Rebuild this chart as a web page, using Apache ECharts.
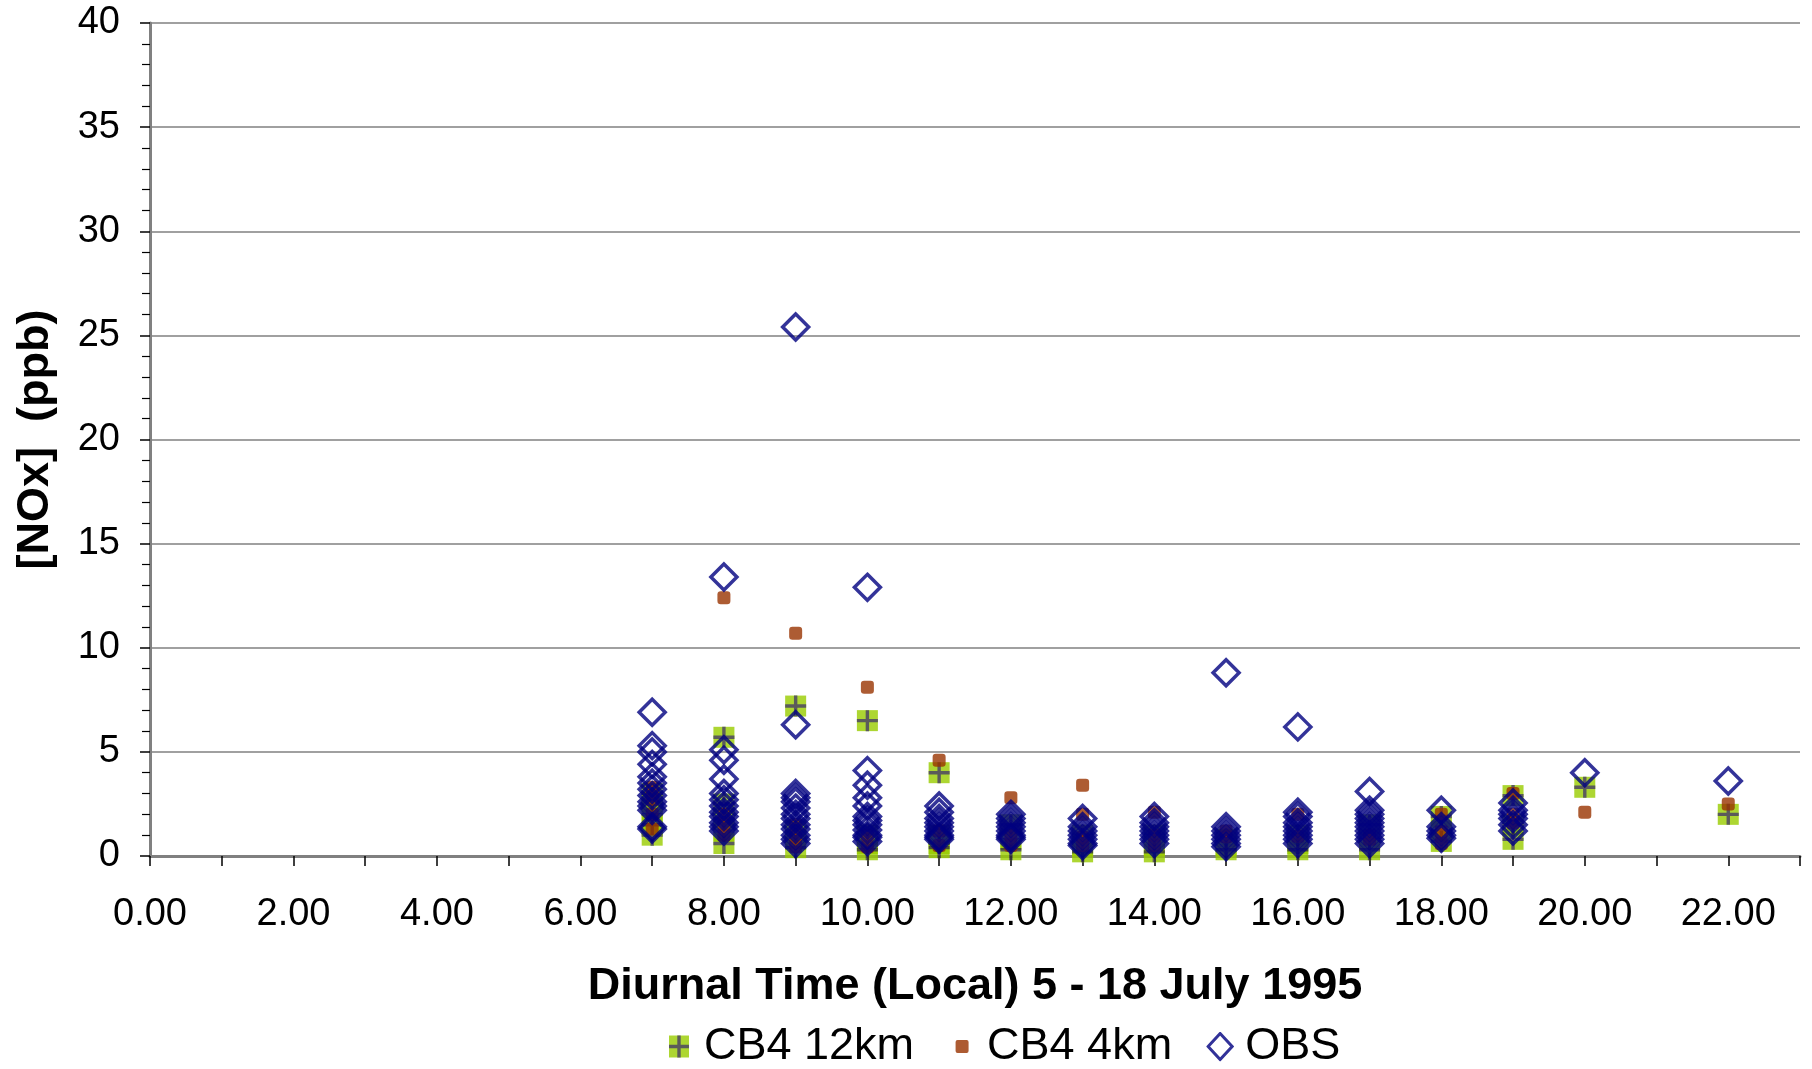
<!DOCTYPE html>
<html>
<head>
<meta charset="utf-8">
<script src="https://cdn.jsdelivr.net/npm/echarts@6/dist/echarts.min.js"></script>
<style>
html,body{margin:0;padding:0;background:#fff;}
#chart{width:1812px;height:1069px;}
</style>
</head>
<body>
<div id="chart"></div>
<script>
// Hours (local) at which values are plotted
var hours = [7, 8, 9, 10, 11, 12, 13, 14, 15, 16, 17, 18, 19, 20, 22];

// CB4 12km model values per hour (ppb)
var cb4_12km = [
  [2.0, 1.0, 1.5, 2.6, 3.0],
  [5.7, 2.5, 1.8, 1.2, 0.6],
  [7.2, 1.2, 0.8, 0.4],
  [6.5, 1.0, 0.6, 0.3],
  [4.0, 1.0, 0.6, 0.4],
  [1.5, 0.8, 0.3],
  [1.0, 0.5, 0.2],
  [1.0, 0.5, 0.2],
  [0.8, 0.5, 0.3],
  [1.0, 0.6, 0.3],
  [1.5, 0.8, 0.3],
  [1.9, 1.2, 0.7],
  [2.9, 1.5, 0.8],
  [3.3],
  [2.0]
];

// CB4 4km model values per hour (ppb)
var cb4_4km = [
  [3.3, 2.9, 2.7, 2.0, 1.3],
  [12.4, 2.0, 1.5, 1.0],
  [10.7, 1.5, 0.9, 0.45],
  [8.1, 1.0, 0.45],
  [4.6, 1.2, 0.5],
  [2.8, 1.0, 0.5],
  [3.4, 2.0, 0.9, 0.5],
  [2.1, 1.0, 0.5],
  [1.2, 0.92],
  [2.0, 0.95],
  [1.0, 0.8],
  [2.0, 1.17, 0.6],
  [3.0, 2.0, 1.6],
  [2.1],
  [2.5]
];

// Observations per hour (ppb)
var obs = [
  [6.9, 5.3, 5.0, 4.4, 3.8, 3.5, 3.2, 2.9, 2.6, 2.4, 2.2, 1.4, 1.3],
  [13.4, 5.1, 4.6, 3.7, 3.0, 2.7, 2.4, 2.1, 1.9, 1.6, 1.4, 1.2],
  [25.4, 6.3, 3.0, 2.8, 2.6, 2.3, 2.0, 1.8, 1.5, 1.3, 1.0, 0.8, 0.6],
  [12.9, 4.1, 3.4, 2.8, 2.4, 1.9, 1.7, 1.5, 1.25, 1.0, 0.9, 0.7],
  [2.4, 2.1, 1.8, 1.6, 1.4, 1.2, 1.0, 0.9, 0.8],
  [2.0, 1.8, 1.6, 1.4, 1.2, 1.0, 0.9, 0.8],
  [1.8, 1.4, 1.2, 1.0, 0.8, 0.6, 0.5],
  [1.9, 1.6, 1.4, 1.2, 1.0, 0.8, 0.6],
  [8.8, 1.4, 1.2, 1.0, 0.8, 0.6, 0.45],
  [6.2, 2.1, 1.9, 1.6, 1.4, 1.2, 1.0, 0.8, 0.6],
  [3.1, 2.2, 2.0, 1.8, 1.6, 1.4, 1.2, 1.0, 0.8, 0.6],
  [2.2, 1.4, 1.2, 1.0, 0.85],
  [2.55, 2.2, 2.0, 1.8, 1.5, 1.2],
  [4.0],
  [3.6]
];

var seriesNames = ['CB4 12km', 'CB4 4km', 'OBS'];
var xTitle = 'Diurnal Time (Local) 5 - 18 July 1995';
var yTitle = '[NOx]  (ppb)';

function pairs(groups) {
  var out = [];
  for (var i = 0; i < hours.length; i++) {
    var g = groups[i] || [];
    for (var j = 0; j < g.length; j++) out.push([hours[i], g[j]]);
  }
  return out;
}

function svgImg(svg) {
  return 'image://data:image/svg+xml;utf8,' + encodeURIComponent(svg);
}
// plot marker for CB4 12km
var greenSym = svgImg('<svg xmlns="http://www.w3.org/2000/svg" width="24" height="24" viewBox="0 0 24 24">' +
  '<rect x="1.5" y="1.5" width="21" height="21" fill="#99CC00"/>' +
  '<path d="M12 1.5V22.5M1.5 12H22.5" stroke="#333333" stroke-width="3.4" fill="none"/></svg>');
// legend icons (28x30 box)
var greenIcon = svgImg('<svg xmlns="http://www.w3.org/2000/svg" width="28" height="30" viewBox="0 0 28 30">' +
  '<rect x="4" y="4" width="20" height="22" fill="#99CC00"/>' +
  '<path d="M14 4V26M4 15H24" stroke="#333333" stroke-width="3.4" fill="none"/></svg>');
var orangeIcon = svgImg('<svg xmlns="http://www.w3.org/2000/svg" width="28" height="30" viewBox="0 0 28 30">' +
  '<rect x="7.5" y="8.5" width="13" height="13" rx="2" ry="2" fill="#993300"/></svg>');
var diamondIcon = svgImg('<svg xmlns="http://www.w3.org/2000/svg" width="28" height="30" viewBox="0 0 28 30">' +
  '<path d="M14 2L26 15L14 28L2 15Z" stroke="#000080" stroke-width="3" fill="none"/></svg>');

var FONT = '"Liberation Sans", Arial, sans-serif';

var chart = echarts.init(document.getElementById('chart'), null, {renderer: 'canvas'});
chart.setOption({
  animation: false,
  backgroundColor: '#ffffff',
  textStyle: {fontFamily: FONT},
  grid: {left: 150, right: 12, top: 23, bottom: 213, containLabel: false},
  legend: {
    data: [
      {name: seriesNames[0], icon: greenIcon},
      {name: seriesNames[1], icon: orangeIcon},
      {name: seriesNames[2], icon: diamondIcon}
    ],
    left: 660,
    top: 1019,
    itemGap: 34,
    itemWidth: 28,
    itemHeight: 30,
    textStyle: {fontSize: 45, color: '#000', fontFamily: FONT, padding: [0, 0, 0, 6]}
  },
  xAxis: {
    type: 'value',
    min: 0, max: 23, interval: 1,
    name: xTitle,
    nameLocation: 'middle',
    nameGap: 108,
    nameTextStyle: {fontSize: 45, fontWeight: 'bold', color: '#000', fontFamily: FONT},
    axisLine: {show: true, lineStyle: {color: '#808080', width: 3}},
    axisTick: {show: true, length: 10, lineStyle: {color: '#000', width: 1.5}},
    axisLabel: {
      margin: 40, fontSize: 38, color: '#000', fontFamily: FONT,
      formatter: function (v) { return (v % 2 === 0) ? v.toFixed(2) : ''; }
    },
    splitLine: {show: false}
  },
  yAxis: {
    type: 'value',
    min: 0, max: 40, interval: 5,
    name: yTitle,
    nameLocation: 'middle',
    nameGap: 92,
    nameRotate: 90,
    nameTextStyle: {fontSize: 45, fontWeight: 'bold', color: '#000', fontFamily: FONT},
    axisLine: {show: true, lineStyle: {color: '#808080', width: 3}},
    axisTick: {show: true, length: 10, lineStyle: {color: '#000', width: 1.5}},
    minorTick: {show: true, splitNumber: 5, length: 8, lineStyle: {color: '#000', width: 1.2}},
    axisLabel: {margin: 30, fontSize: 38, color: '#000', fontFamily: FONT},
    splitLine: {show: true, lineStyle: {color: '#808080', width: 1.5}}
  },
  series: [
    {
      name: seriesNames[0], type: 'scatter',
      symbol: greenSym, symbolSize: 24,
      itemStyle: {color: '#99CC00'},
      data: pairs(cb4_12km)
    },
    {
      name: seriesNames[1], type: 'scatter',
      symbol: 'roundRect', symbolSize: 13,
      itemStyle: {color: '#993300'},
      data: pairs(cb4_4km)
    },
    {
      name: seriesNames[2], type: 'scatter',
      symbol: 'diamond', symbolSize: 26,
      itemStyle: {color: 'rgba(255,255,255,0)', borderColor: '#000080', borderWidth: 3.5},
      data: pairs(obs)
    }
  ]
});
</script>
</body>
</html>
